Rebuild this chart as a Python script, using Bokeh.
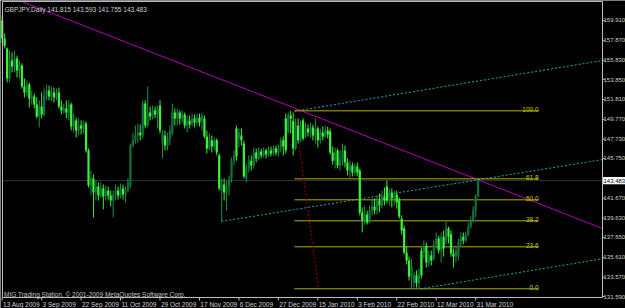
from bokeh.plotting import figure
from bokeh.models import ColumnDataSource, Range1d
from bokeh.embed import file_html
from bokeh.resources import INLINE
from bokeh.core.properties import value

# ---------------- data ----------------
symbol = "GBPJPY,Daily"
copyright_text = "MIG Trading Station, \u00a9 2001-2009 MetaQuotes Software Corp."

date_bars = [0, 16, 32, 48, 64, 80, 96, 112, 128, 144, 160, 176, 192]
date_labels = ["13 Aug 2009", "3 Sep 2009", "22 Sep 2009", "11 Oct 2009", "29 Oct 2009",
               "17 Nov 2009", "6 Dec 2009", "27 Dec 2009", "15 Jan 2010", "3 Feb 2010",
               "22 Feb 2010", "12 Mar 2010", "31 Mar 2010"]

price_ticks = [159.91, 157.87, 155.83, 153.85, 151.81, 149.77, 147.73, 145.75,
               141.67, 139.63, 137.65, 135.61, 133.57, 131.59]
price_tick_labels = ["159.910", "157.870", "155.830", "153.850", "151.810", "149.770", "147.730",
                     "145.750", "141.670", "139.630", "137.650", "135.610", "133.570", "131.590"]

opens = [159.91, 158.06, 157.03, 153.96, 155.81, 155.18, 156.01, 154.78, 155.28, 153.13,
         152.53, 153.33, 151.91, 152.11, 151.28, 150.06, 151.08, 150.26, 152.21, 152.73,
         152.11, 152.53, 152.01, 152.53, 151.08, 150.68, 150.88, 150.46, 151.28, 149.03,
         149.66, 148.63, 149.13, 148.83, 149.33, 146.58, 142.98, 143.71, 142.26, 142.88,
         141.96, 142.68, 141.86, 142.46, 141.96, 141.43, 142.06, 142.46, 141.96, 142.68,
         142.06, 142.46, 142.98, 147.08, 147.61, 148.11, 148.41, 148.11, 151.38, 149.13,
         150.46, 150.06, 150.68, 150.26, 151.18, 147.38, 148.11, 147.08, 147.81, 148.31,
         150.46, 149.86, 150.46, 149.86, 150.26, 149.13, 149.66, 149.23, 149.86, 149.43,
         149.96, 149.66, 149.86, 148.01, 146.78, 147.61, 146.98, 147.61, 146.06, 142.46,
         143.08, 142.26, 142.88, 143.71, 145.53, 148.83, 147.81, 148.11, 147.28, 143.71,
         144.73, 145.53, 145.03, 146.36, 145.76, 146.46, 146.06, 146.58, 146.16, 146.58,
         146.26, 146.78, 146.36, 146.78, 147.61, 149.86, 148.63, 150.16, 149.56, 146.78,
         149.13, 147.61, 149.66, 148.01, 148.83, 148.41, 148.93, 148.11, 148.83, 147.61,
         148.41, 148.01, 148.63, 148.51, 146.36, 145.53, 146.58, 145.03, 145.76, 146.58,
         145.33, 144.51, 145.03, 144.31, 144.93, 144.51, 140.21, 139.38, 140.01, 139.18,
         140.41, 140.83, 140.41, 141.43, 140.93, 141.86, 142.88, 141.43, 142.26, 141.66,
         142.06, 141.43, 139.58, 138.56, 136.11, 135.28, 133.63, 133.03, 133.76, 132.96,
         136.31, 136.11, 136.81, 135.08, 135.81, 135.48, 136.93, 137.53, 136.31, 137.73,
         137.33, 138.56, 137.96, 136.01, 135.68, 135.68, 137.13, 137.73, 137.33, 137.96,
         138.76, 139.38, 140.41, 141.815]
highs = [160.41, 158.58, 157.13, 156.83, 156.63, 156.83, 156.31, 155.81, 155.51, 153.96,
         153.76, 153.56, 152.73, 152.41, 152.01, 151.71, 152.53, 152.93, 153.33, 153.23,
         153.13, 153.03, 152.93, 153.03, 151.71, 151.38, 151.71, 151.71, 151.48, 150.36,
         149.96, 149.86, 149.66, 149.66, 149.56, 146.78, 144.51, 144.11, 143.48, 143.28,
         143.28, 143.08, 142.98, 142.88, 142.46, 142.46, 143.08, 142.88, 143.18, 143.08,
         142.88, 143.71, 147.28, 148.41, 149.13, 149.33, 149.23, 151.71, 151.71, 153.13,
         151.08, 151.18, 151.08, 151.18, 151.71, 148.63, 148.63, 148.41, 149.13, 151.38,
         150.88, 150.88, 150.68, 150.68, 150.46, 150.16, 150.16, 150.36, 150.26, 150.36,
         150.36, 150.46, 150.16, 148.63, 148.31, 148.11, 147.91, 147.81, 146.26, 143.71,
         143.71, 143.48, 144.01, 145.86, 146.58, 149.13, 148.83, 148.83, 147.61, 145.13,
         146.06, 146.06, 146.88, 146.78, 146.88, 146.78, 146.88, 146.78, 146.98, 146.98,
         147.08, 147.08, 147.18, 147.91, 148.01, 150.36, 150.46, 150.64, 150.46, 149.86,
         149.86, 149.66, 149.86, 149.43, 149.23, 149.43, 149.23, 149.86, 149.03, 148.83,
         149.03, 149.13, 149.03, 148.83, 146.98, 146.88, 146.78, 146.58, 147.28, 147.08,
         145.76, 145.53, 145.33, 145.23, 145.33, 144.71, 140.73, 140.93, 140.41, 140.93,
         141.66, 141.66, 141.96, 142.16, 142.46, 142.78, 143.48, 142.68, 142.68, 142.46,
         142.46, 141.76, 139.91, 138.88, 136.73, 135.68, 135.48, 134.06, 134.26, 134.46,
         136.61, 137.33, 137.13, 136.31, 136.31, 137.33, 138.16, 137.83, 138.16, 138.36,
         139.28, 138.76, 138.36, 136.51, 136.71, 137.53, 138.16, 138.16, 138.26, 139.18,
         139.81, 140.83, 142.06, 143.593]
lows = [157.56, 157.03, 153.56, 153.56, 154.58, 154.58, 154.06, 153.96, 152.93, 152.01,
        152.11, 150.98, 151.28, 150.88, 149.86, 148.93, 149.86, 150.06, 151.71, 151.71,
        151.61, 151.48, 151.71, 150.88, 150.26, 150.36, 149.86, 149.66, 148.63, 148.41,
        147.91, 148.11, 148.21, 148.31, 146.36, 142.78, 141.96, 139.71, 141.43, 141.43,
        141.66, 140.53, 141.43, 141.53, 140.83, 139.71, 141.43, 141.53, 141.66, 141.53,
        141.23, 142.26, 142.68, 146.88, 147.28, 147.38, 147.61, 147.81, 148.83, 148.93,
        149.66, 149.76, 149.86, 148.83, 148.31, 145.76, 146.58, 146.58, 147.08, 148.11,
        149.13, 149.13, 149.23, 149.43, 148.83, 148.41, 148.83, 149.03, 148.93, 149.13,
        149.03, 148.63, 147.81, 146.26, 146.58, 146.36, 146.58, 146.06, 142.46, 139.28,
        141.43, 140.41, 141.96, 143.28, 145.03, 145.53, 146.88, 147.08, 143.71, 143.28,
        144.31, 144.51, 144.73, 145.33, 145.53, 145.76, 145.86, 145.76, 145.96, 145.96,
        146.06, 146.06, 145.96, 146.36, 146.06, 146.26, 148.31, 148.31, 146.06, 146.58,
        147.28, 147.38, 147.61, 147.81, 148.01, 147.91, 147.61, 147.28, 146.88, 147.28,
        147.61, 147.81, 147.81, 146.16, 145.13, 144.73, 144.73, 144.51, 145.03, 144.83,
        144.01, 143.81, 143.91, 144.01, 143.91, 139.91, 138.16, 138.88, 138.98, 139.08,
        139.91, 140.01, 140.01, 140.21, 140.61, 140.93, 141.13, 140.93, 140.73, 140.93,
        140.61, 139.58, 137.96, 135.91, 134.88, 133.23, 132.38, 132.51, 132.51, 132.41,
        133.43, 135.48, 134.56, 134.66, 134.78, 135.28, 136.51, 136.01, 135.08, 135.68,
        136.93, 137.03, 135.68, 134.56, 135.08, 135.28, 136.71, 136.93, 137.13, 137.76,
        138.56, 139.18, 139.71, 141.755]
closes = [158.06, 157.33, 153.96, 155.81, 155.18, 156.01, 154.78, 155.38, 153.13, 152.53,
          153.33, 151.91, 152.11, 151.28, 150.06, 151.08, 150.26, 152.21, 152.73, 152.11,
          152.53, 152.01, 152.41, 151.08, 150.68, 150.88, 150.46, 151.28, 149.03, 149.66,
          148.63, 149.13, 148.83, 149.33, 146.58, 142.98, 143.71, 142.26, 142.88, 141.96,
          142.68, 141.86, 142.46, 141.96, 141.43, 142.06, 142.46, 141.96, 142.68, 142.06,
          142.46, 143.28, 147.08, 147.61, 148.11, 148.41, 148.11, 151.38, 149.13, 150.46,
          150.06, 150.68, 150.26, 150.88, 148.63, 148.21, 147.08, 147.81, 148.63, 150.46,
          149.86, 150.46, 149.86, 150.26, 149.13, 149.66, 149.23, 149.86, 149.43, 149.96,
          149.43, 150.16, 148.01, 146.78, 147.61, 146.98, 147.61, 146.36, 142.68, 143.08,
          142.26, 142.88, 143.71, 145.53, 146.06, 145.96, 148.41, 147.61, 143.91, 144.73,
          145.53, 145.03, 146.36, 145.76, 146.46, 146.06, 146.58, 146.16, 146.58, 146.26,
          146.78, 146.36, 146.78, 147.61, 146.98, 146.58, 150.16, 149.86, 146.78, 149.13,
          147.61, 149.13, 147.81, 148.83, 148.41, 148.93, 148.11, 148.83, 147.61, 148.41,
          148.01, 148.63, 148.21, 146.36, 145.53, 146.36, 145.03, 145.76, 146.58, 145.33,
          144.51, 145.03, 144.31, 144.93, 144.31, 140.21, 139.38, 140.01, 139.18, 140.41,
          140.83, 140.41, 141.43, 140.93, 141.86, 141.43, 141.43, 142.26, 141.66, 142.06,
          141.23, 139.81, 138.36, 136.11, 135.28, 133.63, 134.66, 133.76, 132.96, 133.86,
          133.76, 136.81, 135.08, 135.81, 135.28, 136.93, 137.53, 136.31, 137.73, 136.51,
          138.56, 137.73, 136.01, 135.68, 136.31, 137.13, 137.73, 137.33, 137.96, 138.76,
          139.38, 140.41, 141.815, 143.483]

# drawn objects (bar index, price) -- visible portions
trend_x = [7.92, 243.43]
trend_y = [161.86, 138.57]
channel_x0 = [88.9, 118.5, 169.6]
channel_y0 = [139.29, 150.60, 132.38]
channel_x1 = [243.43, 243.43, 243.43]
channel_y1 = [145.64, 155.80, 135.46]
fib_x = [118.5, 128.3]
fib_y = [150.64, 132.38]
fib_ratios = [0.0, 23.6, 38.2, 50.0, 61.8, 100.0]
fib_end_x = 217.5

# ---------------- styling / layout ----------------
FONT = "Liberation Sans"
BULL_BODY, BULL_WICK = "#13703d", "#1f9444"
BEAR_BODY, BEAR_WICK = "#3cf03c", "#3cf03c"
TXT = "#d0d0d0"
AXIS = "#c0c0c0"

PX0, PX1 = 0.12, 243.43      # plot box left/right (bars)
PY0, PY1 = 131.49, 161.86    # plot box bottom/top (price)
CX0, CX1 = -0.69, 252.76     # canvas left/right
CY0, CY1 = 130.36, 161.96    # canvas bottom/top
PX_PER_BAR = 2.466
PRICE_PER_PX = 0.1026

p = figure(width=625, height=308, x_range=Range1d(CX0, CX1), y_range=Range1d(CY0, CY1),
           x_axis_location=None, y_axis_location=None, toolbar_location=None,
           output_backend="svg", min_border=0,
           min_border_left=0, min_border_right=0, min_border_top=0, min_border_bottom=0,
           background_fill_color="black", border_fill_color="black",
           outline_line_color=None)
p.xgrid.visible = False
p.ygrid.visible = False

# current price line
p.segment(x0=[PX0], y0=[closes[-1]], x1=[PX1], y1=[closes[-1]],
          line_color="#5a6878", line_dash="1 1", line_width=1)

# trend line and channel
p.line(trend_x, trend_y, line_color="#b400b4", line_width=1)
p.segment(x0=channel_x0, y0=channel_y0, x1=channel_x1, y1=channel_y1,
          line_color="#17a9a9", line_dash="2 2", line_width=1)

# fibonacci
fib_levels = [fib_y[1] + r / 100.0 * (fib_y[0] - fib_y[1]) for r in fib_ratios]
fib_src = ColumnDataSource(dict(x0=[fib_x[0]] * len(fib_ratios), x1=[fib_end_x] * len(fib_ratios),
                                y=fib_levels, text=[f"{r:.1f}" for r in fib_ratios]))
p.segment(x0="x0", y0="y", x1="x1", y1="y", source=fib_src, line_color="#b0b000", line_width=1)
p.segment(x0=[fib_x[0]], y0=[fib_y[0]], x1=[fib_x[1]], y1=[fib_y[1]],
          line_color="#a00000", line_dash="2 2", line_width=1)
p.text(x="x1", y="y", text="text", source=fib_src, text_align="right",
       text_baseline="alphabetic", y_offset=-1, text_color="#c8c800",
       text_font=value(FONT), text_font_size="6.5px")

# candles
n = len(closes)
is_bull = [c >= o for o, c in zip(opens, closes)]
csrc = ColumnDataSource(dict(
    x=list(range(n)), h=highs, l=lows,
    top=[max(o, c) for o, c in zip(opens, closes)],
    bottom=[min(o, c) for o, c in zip(opens, closes)],
    body=[BULL_BODY if b else BEAR_BODY for b in is_bull],
    wick=[BULL_WICK if b else BEAR_WICK for b in is_bull]))
p.segment(x0="x", y0="l", x1="x", y1="h", source=csrc, line_color="wick", line_width=1)
p.vbar(x="x", width=0.9, top="top", bottom="bottom", source=csrc,
       fill_color="body", line_color=None)

# plot box
p.quad(left=[PX0], right=[PX1], bottom=[PY0], top=[PY1], fill_color=None,
       line_color=AXIS, line_width=1)

# header and footer text
header = f"{symbol}  {opens[-1]:.3f} {highs[-1]:.3f} {lows[-1]:.3f} {closes[-1]:.3f}"
p.text(x=[0.93], y=[CY1 - 9.0 * PRICE_PER_PX], text=[header], text_color=TXT,
       text_font=value(FONT), text_font_size="6.5px", text_baseline="alphabetic")
p.text(x=[0.73], y=[CY1 - 294.0 * PRICE_PER_PX], text=[copyright_text], text_color="#c0c0c0",
       text_font=value(FONT), text_font_size="6.5px", text_baseline="alphabetic")

# time axis: tick marks + left-aligned labels
nd = len(date_bars)
p.segment(x0=date_bars, y0=[PY0] * nd, x1=date_bars, y1=[PY0 - 3 * PRICE_PER_PX] * nd,
          line_color=AXIS, line_width=1)
p.text(x=[b + 0.35 for b in date_bars], y=[CY1 - 303.6 * PRICE_PER_PX] * nd, text=date_labels,
       text_align="left", text_baseline="alphabetic", text_color=TXT,
       text_font=value(FONT), text_font_size="6.5px")

# price axis: tick marks + labels
npt = len(price_ticks)
p.segment(x0=[PX1] * npt, y0=price_ticks, x1=[PX1 + 2.2 / PX_PER_BAR] * npt, y1=price_ticks,
          line_color=AXIS, line_width=1)
p.text(x=[PX1 + 1.0 / PX_PER_BAR] * npt, y=price_ticks, text=price_tick_labels,
       text_align="left", text_baseline="middle", text_color=TXT,
       text_font=value(FONT), text_font_size="6px")

# current price box
p.quad(left=[PX1 + 0.6 / PX_PER_BAR], right=[CX1], bottom=[closes[-1] - 3.6 * PRICE_PER_PX],
       top=[closes[-1] + 3.6 * PRICE_PER_PX], fill_color="white", line_color=None)
p.text(x=[PX1 + 1.0 / PX_PER_BAR], y=[closes[-1]], text=[f"{closes[-1]:.3f}"],
       text_align="left", text_baseline="middle", text_color="black",
       text_font=value(FONT), text_font_size="6px")

open("out.html", "w").write(file_html(p, INLINE))
